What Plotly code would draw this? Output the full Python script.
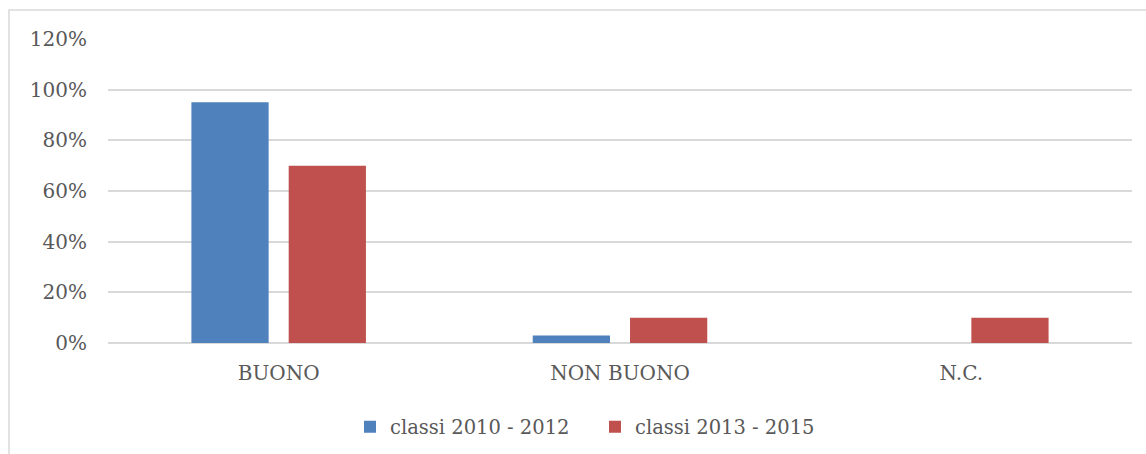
import plotly.graph_objects as go

categories = ["BUONO", "NON BUONO", "N.C."]
series_names = ["classi 2010 - 2012", "classi 2013 - 2015"]
values_2010_2012 = [0.95, 0.03, 0.0]
values_2013_2015 = [0.70, 0.10, 0.10]
colors = ["#4F81BD", "#C0504D"]
y_ticks = [0, 0.2, 0.4, 0.6, 0.8, 1.0, 1.2]
y_tick_labels = ["0%", "20%", "40%", "60%", "80%", "100%", "120%"]

FONT = "DejaVu Serif"
TXT = "#595959"

W, H = 1146, 454
PL, PR, PT, PB = 108, 14, 39, 111
plot_w = W - PL - PR
plot_h = H - PT - PB

fig = go.Figure()
for name, vals, col in zip(series_names, [values_2010_2012, values_2013_2015], colors):
    fig.add_trace(go.Bar(x=categories, y=vals, name=name, marker=dict(color=col, line=dict(width=0))))

fig.update_layout(
    width=W, height=H,
    margin=dict(l=PL, r=PR, t=PT, b=PB, autoexpand=False),
    paper_bgcolor="white", plot_bgcolor="white",
    barmode="group", bargap=0.43, bargroupgap=0.206,
    font=dict(family=FONT, size=20, color=TXT),
    showlegend=True,
    legend=dict(orientation="h", x=(378 - 28 - PL) / plot_w, xanchor="left",
                y=-(427 - 343) / plot_h, yanchor="middle",
                font=dict(family=FONT, size=19.5, color=TXT), itemwidth=30,
                entrywidth=200, entrywidthmode="pixels",
                traceorder="normal"),
    xaxis=dict(showgrid=False, showline=False, ticks="", zeroline=False, automargin=False,
               tickfont=dict(family=FONT, size=20, color=TXT), ticklabelstandoff=16),
    yaxis=dict(range=[0, 1.2], tickvals=y_ticks, ticktext=y_tick_labels, automargin=False,
               showgrid=True, gridcolor="#D9D9D9", gridwidth=1.5,
               zeroline=True, zerolinecolor="#D9D9D9", zerolinewidth=2,
               showline=False, ticks="", ticklabelstandoff=20,
               tickfont=dict(family=FONT, size=20, color=TXT)),
)

# outer chart border (only top and left edges fall inside the picture)
fig.add_shape(type="rect", xref="paper", yref="paper",
              x0=(9 - PL) / plot_w, x1=1.03, y0=-0.45, y1=1 + (PT - 10) / plot_h,
              line=dict(color="#D9D9D9", width=1.5), fillcolor="rgba(0,0,0,0)", layer="below")

fig.write_html(
    "out.html",
    config={"displayModeBar": False},
    post_script="document.body.style.margin='0';document.body.style.overflow='hidden';"
                "document.documentElement.style.overflow='hidden';",
)
